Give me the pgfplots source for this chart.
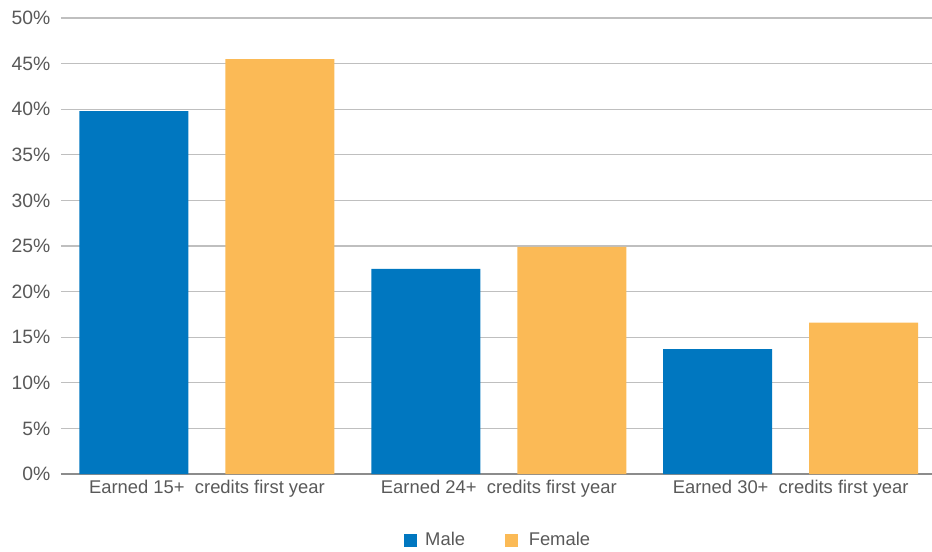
\documentclass[border=0pt]{standalone}
\usepackage{pgfplots}
\pgfplotsset{compat=1.18}
\usepackage{fontspec}
\setmainfont{Liberation Sans}
\definecolor{maleblue}{HTML}{0077C0}
\definecolor{femorange}{HTML}{FBBA56}
\definecolor{txtgray}{HTML}{595959}
\definecolor{gridgray}{HTML}{BFBFBF}
\definecolor{axgray}{HTML}{8C8C8C}

\begin{document}
\begin{tikzpicture}
\path[use as bounding box] (0pt,0pt) rectangle (699pt,413.25pt);
\begin{axis}[
    at={(45.75pt,57.75pt)}, anchor=south west,
    scale only axis,
    width=653.25pt, height=342pt,
    ybar, bar width=81.75pt,
    ymin=0, ymax=50,
    xmin=-0.5, xmax=2.484,
    xtick=data,
    xticklabels={Earned 15+ \ credits first year, Earned 24+ \ credits first year, Earned 30+ \ credits first year},
    ytick={0,5,...,50},
    yticklabels={0\%,5\%,10\%,15\%,20\%,25\%,30\%,35\%,40\%,45\%,50\%},
    /pgf/number format/assume math mode=true,
    ymajorgrids, grid style={gridgray, line width=0.9pt},
    axis x line*=bottom, axis y line*=left,
    y axis line style={draw=none},
    x axis line style={axgray, line width=0.9pt, -},
    major tick length=0pt,
    tick label style={font=\fontsize{13.8}{16}\selectfont, text=txtgray},
    yticklabel style={font=\fontsize{14.5}{16}\selectfont, xshift=-4.5pt},
    xticklabel style={yshift=-1pt},
    legend style={at={(0.5023,-0.145)}, anchor=center, draw=none, fill=none,
        legend columns=2, font=\fontsize{13.8}{16}\selectfont, text=txtgray,
        /tikz/every even column/.append style={column sep=28pt}},
    legend image code/.code={\fill[#1] (0pt,-4.9pt) rectangle (9.75pt,4.9pt);},
    legend cell align=left,
]
\addplot[fill=maleblue, draw=none, bar shift=-54.75pt] coordinates {(0,39.8) (1,22.5) (2,13.7)};
\addplot[fill=femorange, draw=none, bar shift=54.75pt] coordinates {(0,45.5) (1,24.9) (2,16.6)};
\legend{\hspace{4pt}Male, \hspace{6pt}Female}
\end{axis}
\end{tikzpicture}
\end{document}
